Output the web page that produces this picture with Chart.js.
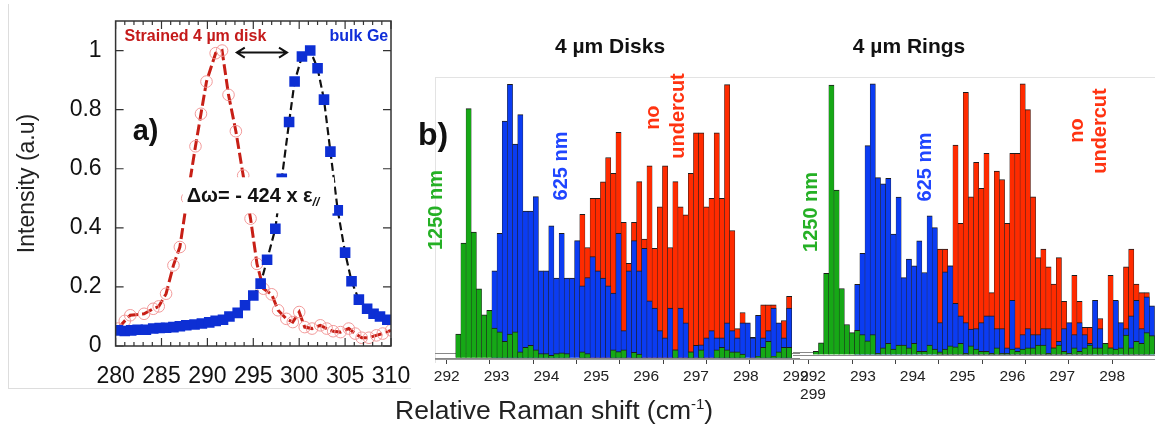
<!DOCTYPE html>
<html>
<head>
<meta charset="utf-8">
<script src="https://cdn.jsdelivr.net/npm/chart.js@4.4.1/dist/chart.umd.min.js"></script>
<style>
  body { margin: 0; background: #fff; }
  #fig { position: relative; width: 1155px; height: 433px; overflow: hidden; font-family: "Liberation Sans", Arial, sans-serif; }
  #fig canvas, #fig .abs { position: absolute; }
  #frameA { left: 8px; top: 4px; width: 402px; height: 384px; border-left: 1px solid #ddd; border-bottom: 1px solid #ddd; }
  #frameB { left: 435px; top: 77px; width: 720px; height: 285px; border-left: 1px solid #e3e3e3; border-top: 1px solid #e3e3e3; }
  #cA { left: 0; top: 0; }
  #cD { left: 410px; top: 0; }
  #cR { left: 793px; top: 0; }
  #xTitle { left: 395px; top: 395px; font-size: 26.5px; line-height: 30px; color: #222; white-space: nowrap; }
  #xTitle sup { font-size: 15px; line-height: 0; }
</style>
</head>
<body>
<div id="fig">
  <div id="frameA" class="abs"></div>
  <div id="frameB" class="abs"></div>
  <canvas id="cA" width="415" height="400"></canvas>
  <canvas id="cD" width="400" height="400"></canvas>
  <canvas id="cR" width="362" height="420"></canvas>
  <div id="xTitle" class="abs">Relative Raman shift (cm<sup>-1</sup>)</div>
</div>
<script>
// ── a) espectros Raman normalizados ──
const strainedShift = [280.25, 281.0, 281.6, 283.1, 284.1, 284.7, 285.5, 286.3, 287.0, 287.8,
  288.7, 289.3, 289.9, 290.9, 291.6, 292.3, 293.1, 293.9, 294.7, 295.4, 296.1, 297.0, 297.7,
  298.6, 299.3, 300.0, 300.6, 301.4, 302.3, 303.0, 303.7, 304.5, 305.4, 306.1, 306.8, 307.6,
  308.4, 309.1, 310.0];
const strainedInt = [0.059, 0.085, 0.104, 0.109, 0.126, 0.134, 0.177, 0.273, 0.335, 0.50,
  0.676, 0.786, 0.895, 0.991, 1.0, 0.85, 0.727, 0.577, 0.431, 0.278, 0.194, 0.175, 0.121,
  0.092, 0.081, 0.115, 0.064, 0.059, 0.07, 0.059, 0.05, 0.047, 0.059, 0.042, 0.028, 0.028,
  0.036, 0.042, 0.053];
const bulkShift = [280.25, 281.0, 281.7, 282.4, 283.3, 284.1, 284.8, 285.5, 286.3, 287.0,
  287.7, 288.6, 289.4, 290.2, 290.9, 291.7, 292.4, 293.3, 294.1, 295.0, 295.8, 296.5, 297.4,
  298.1, 298.9, 299.5, 300.3, 301.2, 302.0, 302.7, 303.4, 304.2, 305.0, 305.7, 306.5, 307.4,
  308.1, 308.8, 309.6];
const bulkInt = [0.053, 0.051, 0.053, 0.055, 0.055, 0.059, 0.061, 0.062, 0.064, 0.067,
  0.07, 0.073, 0.076, 0.08, 0.085, 0.089, 0.10, 0.112, 0.138, 0.171, 0.211, 0.292, 0.397,
  0.566, 0.758, 0.895, 0.98, 1.0, 0.94, 0.834, 0.658, 0.459, 0.316, 0.219, 0.157, 0.126,
  0.109, 0.10, 0.089];

// ── b) histogramas (bins de ancho fijo) ──
const binWidth = 0.1193;
const diskStart = 292.21;
const ringStart = 292.10;

const diskGreen = [8.6, 41.9, 91.1, 45.9, 25.2, 15.7, 17.3, 10.8, 9.4, 6.0, 8.6, 9.4, 2.1, 3.8,
  4.5, 2.9, 1.5, 1.5, 0.8, 1.5, 1.8, 1.5, 0, 0, 2.1, 1.5, 0, 0, 0, 0, 2.9, 2.2, 2.9, 0, 1.9,
  1.3, 0, 0, 0, 0, 0, 0, 2.9, 0, 0, 2.1, 0, 2.9, 0, 0, 2.9, 3.8, 2.9, 2.1, 2.1, 1.3, 0, 0,
  0.5, 3.8, 6.0, 0.5, 2.1, 3.8, 3.8];
const diskBlue = [0, 0, 0, 0, 0, 0, 0, 31.8, 45.5, 86.5, 100, 78.1, 88.9, 53.6, 53.6, 58.9,
  31.8, 31.8, 48.2, 29.1, 45.5, 29.1, 29.1, 42.8, 26.3, 29.3, 37.0, 31.8, 29.1, 26.3, 23.6,
  45.5, 9.9, 31.8, 42.8, 31.8, 40.0, 20.8, 18.1, 9.9, 7.2, 18.1, 2.9, 18.1, 12.7, 2.1, 4.5,
  4.7, 7.2, 9.9, 7.2, 7.2, 12.7, 9.9, 7.2, 12.7, 12.7, 7.2, 15.5, 7.2, 9.9, 18.1, 12.7, 7.2,
  18.1];
const diskRed = [0, 0, 0, 0, 0, 0, 0, 0, 0, 0, 0, 0, 0, 0, 0, 0, 0, 0, 0, 0, 0, 0, 0, 0,
  52.4, 40.3, 58.3, 58.3, 64.3, 73.2, 67.4, 82.4, 49.5, 34.5, 49.5, 64.4, 43.4, 70.2, 40.0,
  55.2, 70.2, 40.3, 64.4, 55.2, 52.2, 67.4, 82.2, 82.2, 55.2, 58.3, 82.2, 58.3, 99.9, 46.5,
  10.6, 16.5, 0, 7.4, 0, 19.3, 19.3, 19.3, 0, 13.6, 22.4];

const ringGreen = [1.2, 4.3, 30.0, 99.6, 60.8, 24.4, 11.1, 8.1, 8.9, 7.4, 5.1, 7.4, 0.4, 2.5,
  4.1, 2.0, 3.5, 3.5, 2.5, 4.1, 1.2, 1.2, 3.5, 2.0, 1.0, 2.0, 3.2, 2.8, 4.1, 0.4, 3.2, 2.0,
  1.2, 1.2, 0.4, 2.5, 0.4, 0.4, 2.0, 1.2, 2.0, 2.5, 2.5, 3.5, 3.5, 0.4, 2.5, 3.5, 1.2, 0.4,
  2.5, 1.2, 2.5, 3.5, 2.5, 2.5, 4.1, 2.5, 2.0, 2.5, 7.2, 2.5, 4.9, 4.1, 8.1, 7.0];
const ringBlue = [0, 0, 0, 0, 0, 0, 0, 0, 25.9, 37.4, 77.2, 100, 65.4, 63.1, 65.1, 44.5, 58.2,
  28.4, 35.3, 32.8, 42.0, 30.3, 51.3, 46.9, 11.8, 30.6, 32.8, 18.9, 14.3, 11.8, 9.4, 9.6,
  11.8, 14.3, 14.3, 9.6, 9.6, 2.5, 20.0, 2.5, 7.4, 9.6, 7.4, 7.4, 9.6, 9.6, 2.5, 4.9, 9.6,
  11.8, 7.4, 11.8, 7.4, 4.1, 20.0, 9.6, 4.1, 2.5, 20.0, 11.8, 9.6, 14.3, 20.0, 9.6, 21.3,
  18.0];
const ringRed = [0, 0, 0, 0, 0, 0, 0, 0, 0, 0, 0, 0, 0, 0, 0, 0, 0, 0, 0, 0, 0, 0, 0, 0,
  39.0, 39.0, 32.8, 77.4, 48.5, 96.9, 58.3, 71.0, 61.4, 74.4, 22.9, 67.8, 64.7, 48.5, 74.4,
  74.4, 100, 90.5, 58.3, 35.8, 39.0, 32.4, 26.0, 35.8, 19.7, 0, 29.3, 19.7, 10.0, 10.0, 0,
  13.3, 0, 29.3, 19.7, 0, 32.4, 39.0, 26.0, 22.9, 22.9, 0];

const FONT = '"Liberation Sans", Arial, sans-serif';
const GREEN = '#16a816', BLUE = '#0b3cf2', RED = '#ff2b00';

Chart.defaults.font.family = FONT;
Chart.defaults.color = '#222';
Chart.defaults.animation = false;
Chart.defaults.plugins.legend.display = false;
Chart.defaults.plugins.tooltip.enabled = false;

function pairs(xs, ys) {
  return xs.map((x, i) => ({ x: x, y: ys[i] }));
}
function bins(start, values) {
  return values.map((v, i) => ({ x: start + binWidth * (i + 0.5), y: v }));
}
// tamaño fijo de un eje, sin márgenes extra por etiquetas
function fixedSize(prop, size) {
  return function (scale) {
    scale[prop] = size;
    scale.paddingLeft = scale.paddingRight = scale.paddingTop = scale.paddingBottom = 0;
  };
}

// Textos anclados a las escalas del gráfico
function notes(id, items) {
  return {
    id: id,
    afterDatasetsDraw(chart) {
      const { ctx, scales: { x, y } } = chart;
      items.forEach(n => {
        ctx.save();
        ctx.font = n.font;
        ctx.fillStyle = n.color || '#111';
        ctx.textAlign = n.align || 'center';
        ctx.textBaseline = n.baseline || 'middle';
        ctx.translate(x.getPixelForValue(n.x), y.getPixelForValue(n.y));
        if (n.rotate) ctx.rotate(n.rotate * Math.PI / 180);
        ctx.fillText(n.text, 0, 0);
        ctx.restore();
      });
    }
  };
}

// ── Panel a ──
const frameTicks = {
  id: 'frameTicks',
  afterDraw(chart) {
    const { ctx, chartArea: a, scales: { x, y } } = chart;
    ctx.save();
    ctx.strokeStyle = '#333';
    ctx.lineWidth = 1.5;
    ctx.strokeRect(a.left, a.top, a.right - a.left, a.bottom - a.top);
    ctx.lineWidth = 1.2;
    ctx.beginPath();
    for (let v = x.min; v <= x.max; v++) {
      const px = x.getPixelForValue(v);
      const len = v % 5 === 0 ? 8 : 4;
      ctx.moveTo(px, a.bottom); ctx.lineTo(px, a.bottom - len);
      ctx.moveTo(px, a.top); ctx.lineTo(px, a.top + len);
    }
    y.ticks.forEach(t => {
      const py = y.getPixelForValue(t.value);
      ctx.moveTo(a.left, py); ctx.lineTo(a.left + 8, py);
      ctx.moveTo(a.right, py); ctx.lineTo(a.right - 8, py);
    });
    ctx.stroke();
    ctx.restore();
  }
};

const shiftNote = {
  id: 'shiftNote',
  afterDatasetsDraw(chart) {
    const { ctx, scales: { x, y } } = chart;
    ctx.save();
    // caja blanca detrás de la fórmula
    const x0 = x.getPixelForValue(287.32), x1 = x.getPixelForValue(303.8);
    const y0 = y.getPixelForValue(0.571), y1 = y.getPixelForValue(0.449);
    ctx.fillStyle = '#fff';
    ctx.fillRect(x0, y0, x1 - x0, y1 - y0);
    ctx.fillStyle = '#111';
    ctx.font = 'bold 20px ' + FONT;
    ctx.textBaseline = 'alphabetic';
    const tx = x.getPixelForValue(287.75), ty = y.getPixelForValue(0.4875);
    const main = 'Δω= - 424 x ε';
    ctx.fillText(main, tx, ty);
    const w = ctx.measureText(main).width;
    ctx.font = 'italic bold 12px ' + FONT;
    ctx.fillText('//', tx + w, ty + 4);
    // flecha doble
    const ay = y.getPixelForValue(0.993);
    const ax0 = x.getPixelForValue(293.2), ax1 = x.getPixelForValue(298.67);
    ctx.strokeStyle = '#111';
    ctx.lineWidth = 2;
    ctx.beginPath();
    ctx.moveTo(ax0 + 2, ay); ctx.lineTo(ax1 - 2, ay);
    ctx.moveTo(ax0 + 8, ay - 5); ctx.lineTo(ax0, ay); ctx.lineTo(ax0 + 8, ay + 5);
    ctx.moveTo(ax1 - 8, ay - 5); ctx.lineTo(ax1, ay); ctx.lineTo(ax1 - 8, ay + 5);
    ctx.stroke();
    ctx.restore();
  }
};

new Chart(document.getElementById('cA'), {
  type: 'scatter',
  data: {
    datasets: [{
      label: 'bulk Ge',
      data: pairs(bulkShift, bulkInt),
      showLine: true,
      borderColor: '#111',
      borderWidth: 2.2,
      borderDash: [8, 4],
      pointStyle: 'rect',
      pointRadius: 7.5,
      pointBackgroundColor: '#0d2fd4',
      pointBorderColor: '#0d2fd4',
      pointBorderWidth: 0
    }, {
      label: 'Strained 4 µm disk',
      data: pairs(strainedShift, strainedInt),
      showLine: true,
      borderColor: '#c71f16',
      borderWidth: 3,
      borderDash: [11, 4],
      pointStyle: 'circle',
      pointRadius: 5.8,
      pointBackgroundColor: 'rgba(255,255,255,0)',
      pointBorderColor: '#f29a9a',
      pointBorderWidth: 1
    }]
  },
  options: {
    responsive: false,
    layout: { padding: { left: 10, right: 24, top: 21, bottom: 9.4 } },
    scales: {
      x: {
        type: 'linear', min: 280, max: 310,
        grid: { display: false, drawTicks: false },
        border: { display: false },
        ticks: { stepSize: 5, padding: 16.5, includeBounds: false, autoSkip: false, maxRotation: 0,
                 font: { size: 23 }, color: '#111' },
        afterFit: fixedSize('height', 44.6)
      },
      y: {
        min: 0, max: 1.1,
        grid: { display: false, drawTicks: false },
        border: { display: false },
        ticks: { stepSize: 0.2, padding: 14, includeBounds: false, font: { size: 23 }, color: '#111',
                 callback: v => String(Math.round(v * 10) / 10) },
        title: { display: true, text: 'Intensity (a.u)', font: { size: 23 }, color: '#222',
                 padding: { top: 4, bottom: 28 } },
        afterFit: fixedSize('width', 105.6)
      }
    }
  },
  plugins: [frameTicks, shiftNote, notes('notesA', [
    { text: 'Strained 4 µm disk', x: 280.98, y: 1.032, align: 'left', baseline: 'alphabetic',
      font: 'bold 16px ' + FONT, color: '#c41a1a' },
    { text: 'bulk Ge', x: 309.7, y: 1.032, align: 'right', baseline: 'alphabetic',
      font: 'bold 16px ' + FONT, color: '#0f2ed8' },
    { text: 'a)', x: 281.86, y: 0.696, align: 'left', baseline: 'alphabetic',
      font: 'bold 29px ' + FONT, color: '#111' }
  ])]
});

// ── Panel b ──
function baseLines(gap) {
  return {
    id: 'baseLines',
    beforeDatasetsDraw(chart) {
      const { ctx, chartArea: a, scales: { y } } = chart;
      ctx.save();
      ctx.strokeStyle = '#888';
      ctx.lineWidth = 1;
      [0, gap].forEach(v => {
        const py = Math.round(y.getPixelForValue(v)) + 0.5;
        ctx.beginPath();
        ctx.moveTo(a.left, py);
        ctx.lineTo(a.right, py);
        ctx.stroke();
      });
      ctx.restore();
    }
  };
}

function barSet(label, data, color) {
  return {
    label: label,
    data: data,
    backgroundColor: color,
    borderColor: '#1c1c1c',
    borderWidth: { top: 1, left: 0.5, right: 0.5, bottom: 0 },
    grouped: false,
    categoryPercentage: 1,
    barPercentage: 1
  };
}

function histogram(id, cfg) {
  return new Chart(document.getElementById(id), {
    type: 'bar',
    data: {
      datasets: [
        barSet('1250 nm', bins(cfg.start, cfg.green), GREEN),
        barSet('625 nm', bins(cfg.start, cfg.blue), BLUE),
        barSet('no undercut', bins(cfg.start, cfg.red), RED)
      ]
    },
    options: {
      responsive: false,
      layout: { padding: cfg.padding },
      scales: {
        x: {
          type: 'linear', min: cfg.xMin, max: cfg.xMax, offset: false, weight: 0,
          grid: { offset: false, drawOnChartArea: false, tickLength: 5, color: '#444' },
          border: { color: '#999' },
          ticks: { display: false, stepSize: 1, includeBounds: false },
          afterFit: fixedSize('height', 5)
        },
        xl: {
          type: 'linear', position: 'bottom', min: cfg.lblMin, max: cfg.lblMax, offset: false, weight: 1,
          grid: { display: false, drawTicks: false },
          border: { display: false },
          ticks: { stepSize: 1, includeBounds: false, autoSkip: false, maxRotation: 0, padding: 3,
                   font: { size: 15.5 }, color: '#222', callback: cfg.label },
          afterFit: fixedSize('height', cfg.labelBand)
        },
        y: { display: false, min: cfg.yMin, max: cfg.yMax }
      }
    },
    plugins: [baseLines(cfg.gap), notes('notes' + id, cfg.notes)]
  });
}

const labelFont = 'bold 20px ' + FONT;
const titleFont = 'bold 21px ' + FONT;

histogram('cD', {
  start: diskStart, green: diskGreen, blue: diskBlue, red: diskRed,
  padding: { left: 25, right: 10, top: 78, bottom: 14.4 },
  labelBand: 21.6,
  xMin: 291.732, xMax: 300.156, lblMin: 291.765, lblMax: 299.087,
  yMin: -0.5, yMax: 102.3, gap: 1.6,
  label: v => String(v),
  notes: [
    { text: '4 µm Disks', x: 295.771, y: 113.6, font: titleFont, color: '#111' },
    { text: 'b)', x: 291.34, y: 77.8, align: 'left', baseline: 'alphabetic', font: 'bold 32px ' + FONT },
    { text: '1250 nm', x: 291.767, y: 54.0, rotate: -90, font: labelFont, color: '#25b025' },
    { text: '625 nm', x: 294.652, y: 70.1, rotate: -90, font: labelFont, color: '#2046ff' },
    { text: 'no', x: 296.775, y: 87.8, rotate: -90, font: labelFont, color: '#ff3311' },
    { text: 'undercut', x: 297.352, y: 88.4, rotate: -90, font: labelFont, color: '#ff3311' }
  ]
});

histogram('cR', {
  start: ringStart, green: ringGreen, blue: ringBlue, red: ringRed,
  padding: { left: 0, right: 0, top: 78, bottom: 15.8 },
  labelBand: 40.2,
  xMin: 291.631, xMax: 299.985, lblMin: 291.599, lblMax: 298.861,
  yMin: -1.66, yMax: 102.2, gap: 1.0,
  label: v => (v === 292 ? ['292', '299'] : String(v)),
  notes: [
    { text: '4 µm Rings', x: 294.308, y: 113.7, font: titleFont, color: '#111' },
    { text: '1250 nm', x: 292.058, y: 52.7, rotate: -90, font: labelFont, color: '#25b025' },
    { text: '625 nm', x: 294.677, y: 69.3, rotate: -90, font: labelFont, color: '#2046ff' },
    { text: 'no', x: 298.185, y: 82.8, rotate: -90, font: labelFont, color: '#ff3311' },
    { text: 'undercut', x: 298.716, y: 82.6, rotate: -90, font: labelFont, color: '#ff3311' }
  ]
});
</script>
</body>
</html>
